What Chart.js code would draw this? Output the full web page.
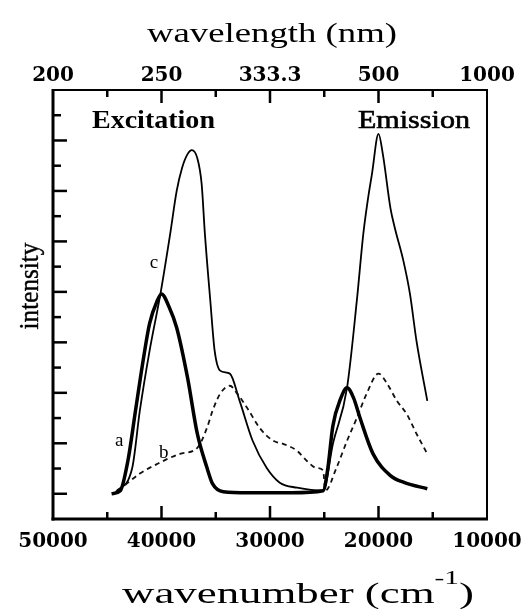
<!DOCTYPE html>
<html>
<head>
<meta charset="utf-8">
<script src="https://cdn.jsdelivr.net/npm/chart.js@4.4.1/dist/chart.umd.min.js"></script>
<style>
  html, body { margin: 0; padding: 0; background: #fff; }
  #wrap { width: 521px; height: 609px; }
</style>
</head>
<body>
<div id="wrap"><canvas id="spectra" width="521" height="609"></canvas></div>
<script>
// axis ticks: wavenumber (cm-1) below, matching wavelength (nm) above
const wavenumberTicks = [50000, 40000, 30000, 20000, 10000];
const wavenumberLabels = ['50000', '40000', '30000', '20000', '10000'];
const wavelengthLabels = ['200', '250', '333.3', '500', '1000'];
const minorWavenumbers = [45000, 35000, 25000, 15000];
const intensityMajor = [0, 1, 2, 3, 4, 5, 6, 7];
const intensityMinor = [0.5, 1.5, 2.5, 3.5, 4.5, 5.5, 6.5, 7.5];

// curve a (heavy line)
const aWavenumber = [44600, 43800, 43100, 42400, 41700, 41100, 40400, 40000, 39300, 38600,
  37600, 36700, 35800, 35300, 34300, 32000, 28000, 25100, 24700, 24200, 23500, 22900,
  22300, 21700, 20500, 18900, 17600, 15500];
const aIntensity = [0.0, 0.06, 0.65, 1.64, 2.63, 3.37, 3.82, 3.96, 3.7, 3.29,
  2.30, 1.19, 0.51, 0.20, 0.04, 0.02, 0.02, 0.06, 0.46, 1.35, 1.88, 2.10,
  1.90, 1.50, 0.79, 0.36, 0.22, 0.10];

// curve b (dashed)
const bWavenumber = [44000, 43200, 42000, 40400, 38300, 36700, 35800, 35300, 34600, 33700,
  33000, 32100, 30900, 29700, 28800, 27500, 26600, 25700, 25100, 24900, 23900, 22900,
  22000, 21100, 20000, 19200, 18300, 17400, 16500, 15500];
const bIntensity = [0.06, 0.20, 0.40, 0.59, 0.79, 0.91, 1.31, 1.64, 1.98, 2.14,
  1.98, 1.70, 1.29, 1.05, 0.99, 0.85, 0.65, 0.51, 0.46, 0.06, 0.50, 1.05,
  1.50, 1.98, 2.38, 2.18, 1.84, 1.58, 1.19, 0.79];

// curve c (thin line)
const cWavenumber = [44200, 42700, 42000, 41100, 40100, 39200, 38600, 38100, 37600, 37200,
  36700, 36300, 36000, 35500, 35100, 34600, 33700, 32800, 31600, 30300, 29100, 27500,
  25100, 24200, 22900, 22000, 21400, 21000, 20600, 20000, 19600, 18900, 18500, 17700,
  17100, 16500, 15500];
const cIntensity = [0.04, 0.51, 1.64, 2.83, 3.96, 5.15, 6.00, 6.46, 6.73, 6.81,
  6.65, 6.14, 5.15, 3.82, 2.83, 2.44, 2.38, 1.84, 1.05, 0.51, 0.22, 0.12,
  0.06, 0.99, 2.10, 3.82, 5.15, 5.80, 6.34, 7.13, 6.73, 5.66, 5.27, 4.61,
  3.96, 3.03, 1.84];

// curve letters, placed in data coordinates (centre x, baseline y)
const curveNames = ['a', 'b', 'c'];
const curveNameX = [43900, 39800, 40700];
const curveNameY = [0.95, 0.71, 4.48];

const toPoints = (xs, ys) => xs.map((x, i) => ({ x, y: ys[i] }));

// draw text squeezed/stretched to a given width, centred on cx
function fitText(ctx, text, cx, baseline, font, width, stroke) {
  ctx.save();
  ctx.font = font;
  const natural = ctx.measureText(text).width;
  ctx.translate(cx, baseline);
  ctx.scale(width / natural, 1);
  ctx.textAlign = 'center';
  ctx.textBaseline = 'alphabetic';
  ctx.fillText(text, 0, 0);
  if (stroke) { ctx.lineWidth = stroke; ctx.strokeText(text, 0, 0); }
  ctx.restore();
}

const decorations = {
  id: 'decorations',
  afterDraw(chart) {
    const { ctx, chartArea: ca, scales } = chart;
    const xs = scales.x, ys = scales.y;
    const line = (x1, y1, x2, y2) => { ctx.beginPath(); ctx.moveTo(x1, y1); ctx.lineTo(x2, y2); ctx.stroke(); };

    ctx.save();
    ctx.strokeStyle = '#000';
    ctx.fillStyle = '#000';

    // inward ticks, top and bottom
    ctx.lineWidth = 2.5;
    wavenumberTicks.slice(1, -1).forEach(v => {
      const px = xs.getPixelForValue(v);
      line(px, ca.bottom, px, ca.bottom - 13);
      line(px, ca.top, px, ca.top + 13);
    });
    minorWavenumbers.forEach(v => {
      const px = xs.getPixelForValue(v);
      line(px, ca.bottom, px, ca.bottom - 7);
      line(px, ca.top, px, ca.top + 7);
    });
    // inward ticks, left side
    intensityMajor.forEach(v => {
      const py = ys.getPixelForValue(v);
      line(ca.left, py, ca.left + 14, py);
    });
    intensityMinor.forEach(v => {
      const py = ys.getPixelForValue(v);
      line(ca.left, py, ca.left + 8, py);
    });

    // frame
    ctx.lineWidth = 3;
    line(ca.left, ca.top - 1, ca.left, ca.bottom + 1.5);
    line(ca.left - 1.5, ca.bottom, ca.right + 1, ca.bottom);
    ctx.lineWidth = 2;
    line(ca.left, ca.top, ca.right + 1, ca.top);
    line(ca.right, ca.top, ca.right, ca.bottom);

    // axis titles
    fitText(ctx, 'wavelength (nm)', 272, 42, '28px "Liberation Serif"', 250);

    ctx.save();
    const mainFont = '29px "Liberation Serif"';
    const supFont = '19px "Liberation Serif"';
    const part1 = 'wavenumber (cm', part2 = '-1', part3 = ')';
    ctx.font = mainFont;
    const w1 = ctx.measureText(part1).width, w3 = ctx.measureText(part3).width;
    ctx.font = supFont;
    const w2 = ctx.measureText(part2).width;
    const target = 352, s = target / (w1 + w2 + w3);
    ctx.translate(298 - target / 2, 603);
    ctx.scale(s, 1);
    ctx.textBaseline = 'alphabetic';
    ctx.font = mainFont;
    ctx.fillText(part1, 0, 0);
    ctx.font = supFont;
    ctx.fillText(part2, w1, -19);
    ctx.font = mainFont;
    ctx.fillText(part3, w1 + w2, 0);
    ctx.restore();

    ctx.save();
    ctx.translate(38, 286);
    ctx.rotate(-Math.PI / 2);
    fitText(ctx, 'intensity', 0, 0, '27px "Liberation Serif"', 87, 0.4);
    ctx.restore();

    // panel headings
    fitText(ctx, 'Excitation', xs.getPixelForValue(40740), ys.getPixelForValue(7.25),
      'bold 25px "Liberation Serif"', 123);
    fitText(ctx, 'Emission', xs.getPixelForValue(16730), ys.getPixelForValue(7.25),
      '25px "Liberation Serif"', 112, 0.6);

    // curve letters
    curveNames.forEach((name, i) => {
      ctx.font = '19px "Liberation Serif"';
      ctx.textAlign = 'center';
      ctx.textBaseline = 'alphabetic';
      ctx.fillText(name, xs.getPixelForValue(curveNameX[i]), ys.getPixelForValue(curveNameY[i]));
    });
    ctx.restore();
  }
};

const tickFont = { family: '"DejaVu Serif"', size: 20, weight: 'bold' };

// both horizontal axes keep a fixed band and no label overflow padding
const fixBand = s => { s.height = 90; s.paddingLeft = 0; s.paddingRight = 0; };

new Chart(document.getElementById('spectra').getContext('2d'), {
  type: 'line',
  data: {
    datasets: [
      {
        label: 'a',
        data: toPoints(aWavenumber, aIntensity),
        borderColor: '#000',
        borderWidth: 3.5,
        pointRadius: 0,
        cubicInterpolationMode: 'monotone',
        fill: false
      },
      {
        label: 'b',
        data: toPoints(bWavenumber, bIntensity),
        borderColor: '#111',
        borderWidth: 1.8,
        borderDash: [5, 4],
        pointRadius: 0,
        cubicInterpolationMode: 'monotone',
        fill: false
      },
      {
        label: 'c',
        data: toPoints(cWavenumber, cIntensity),
        borderColor: '#000',
        borderWidth: 1.8,
        pointRadius: 0,
        cubicInterpolationMode: 'monotone',
        fill: false
      }
    ]
  },
  options: {
    responsive: false,
    animation: false,
    devicePixelRatio: 1,
    layout: { padding: { left: 53, right: 34, top: 0, bottom: 0 } },
    plugins: {
      legend: { display: false },
      tooltip: { enabled: false }
    },
    scales: {
      x: {
        type: 'linear',
        position: 'bottom',
        min: 10000,
        max: 50000,
        reverse: true,
        grid: { display: false, drawTicks: false },
        border: { display: false },
        afterBuildTicks: s => { s.ticks = wavenumberTicks.map(v => ({ value: v })); },
        afterFit: fixBand,
        ticks: {
          autoSkip: false,
          maxRotation: 0,
          padding: 11,
          color: '#000',
          font: tickFont,
          callback: v => wavenumberLabels[wavenumberTicks.indexOf(v)]
        }
      },
      x2: {
        type: 'linear',
        position: 'top',
        min: 10000,
        max: 50000,
        reverse: true,
        grid: { display: false, drawTicks: false },
        border: { display: false },
        afterBuildTicks: s => { s.ticks = wavenumberTicks.map(v => ({ value: v })); },
        afterFit: fixBand,
        ticks: {
          autoSkip: false,
          maxRotation: 0,
          padding: 2,
          color: '#000',
          font: tickFont,
          callback: v => wavelengthLabels[wavenumberTicks.indexOf(v)]
        }
      },
      y: {
        display: false,
        min: -0.5,
        max: 8
      }
    }
  },
  plugins: [decorations]
});
</script>
</body>
</html>
